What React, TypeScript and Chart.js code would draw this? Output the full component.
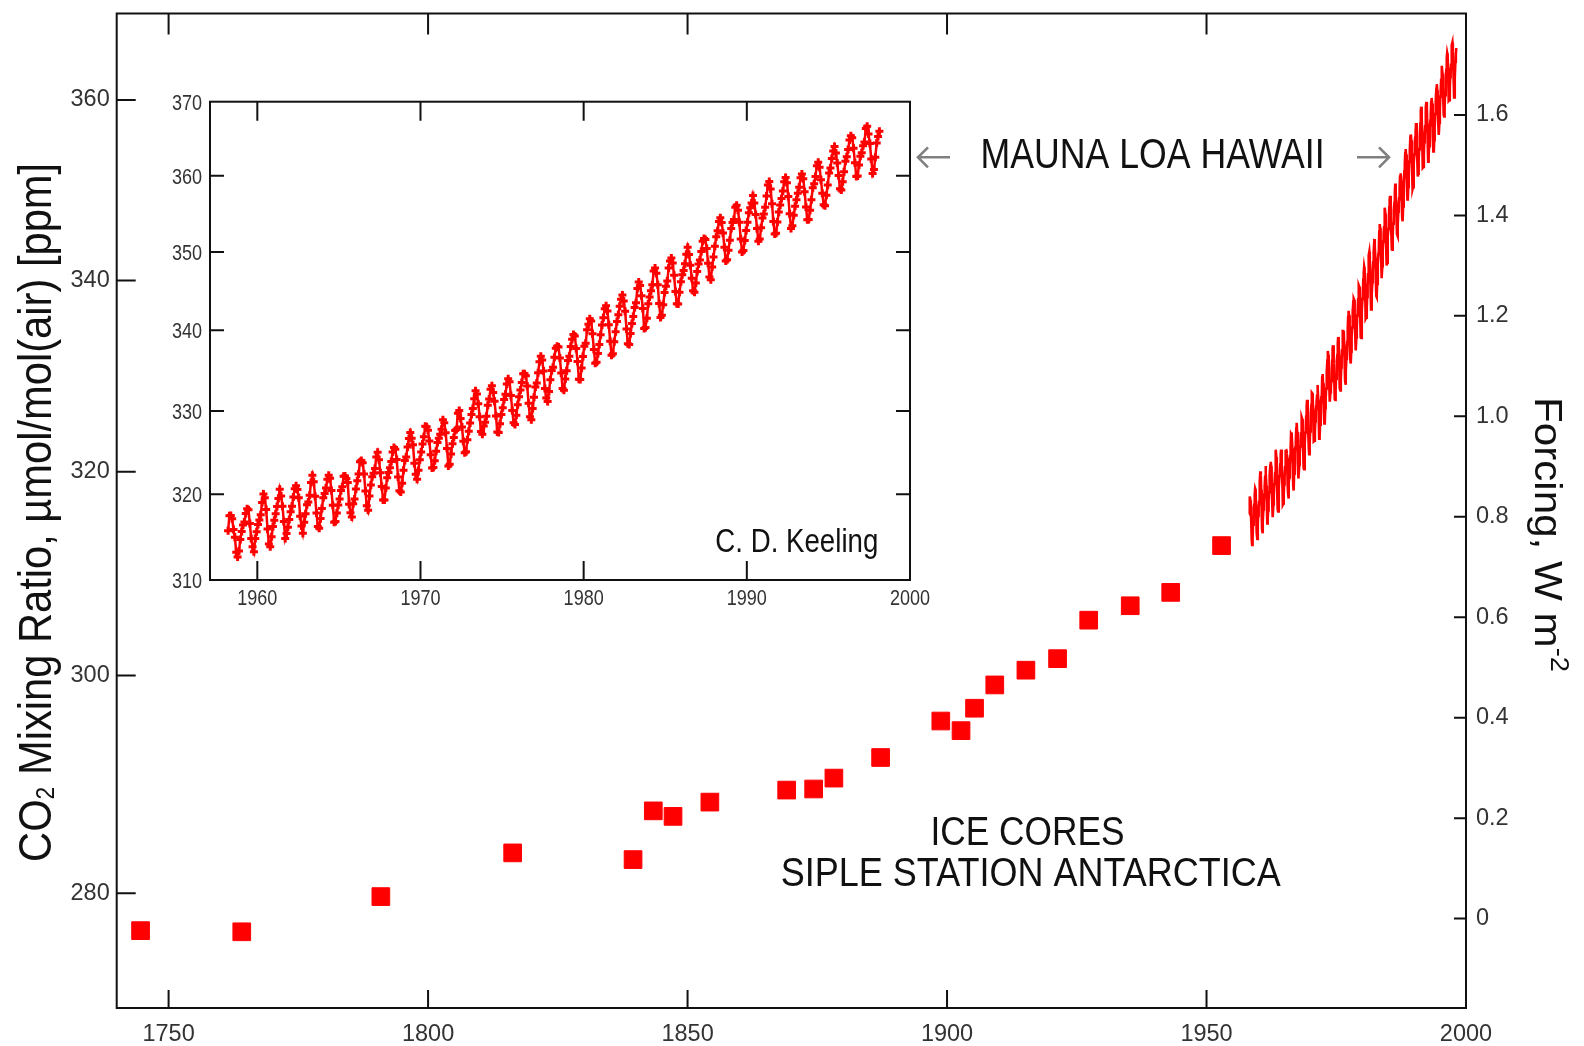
import React, { useEffect, useRef } from 'react';
import { Chart, registerables } from 'chart.js';

Chart.register(...registerables);

const RED = '#ff0000';
const FAMILY = '"Liberation Sans", Arial, Helvetica, sans-serif';

// Ice cores, Siple Station Antarctica
const ICE_YEARS = [1744.6, 1764.1, 1790.9, 1816.3, 1839.5, 1843.4, 1847.2, 1854.3, 1869.1, 1874.3, 1878.2,
  1887.2, 1898.8, 1902.7, 1905.3, 1909.2, 1915.2, 1921.3, 1927.3, 1935.3, 1943.1, 1952.9];
const ICE_CO2 = [276.7, 276.6, 279.7, 283.6, 283.0, 287.4, 286.9, 288.2, 289.3, 289.4, 290.4,
  292.3, 295.7, 294.8, 296.9, 299.1, 300.5, 301.6, 305.3, 306.7, 308.0, 312.6];

// Mauna Loa monthly CO2 (ppm), one row per year from 1958, Jan..Dec
const ML_FIRST_YEAR = 1958;
const ML_MONTHLY: (number | null)[][] = [
  [null, null, 315.71, 317.45, 317.50, 317.10, 315.86, 314.93, 313.20, 312.66, 313.33, 314.67],
  [315.62, 316.38, 316.71, 317.72, 318.29, 318.15, 316.54, 314.80, 313.84, 313.26, 314.80, 315.58],
  [316.43, 316.97, 317.58, 319.02, 320.03, 319.59, 318.18, 315.91, 314.16, 313.83, 315.00, 316.19],
  [316.93, 317.70, 318.54, 319.48, 320.58, 319.77, 318.57, 316.79, 314.80, 315.38, 316.10, 317.01],
  [317.94, 318.56, 319.68, 320.63, 321.01, 320.55, 319.58, 317.40, 316.26, 315.42, 316.69, 317.69],
  [318.74, 319.08, 319.86, 321.39, 322.25, 321.47, 319.74, 317.77, 316.21, 315.99, 317.12, 318.31],
  [319.57, 320.07, 320.73, 321.77, 322.25, 321.89, 320.44, 318.70, 316.70, 316.79, 317.79, 318.71],
  [319.44, 320.44, 320.89, 322.13, 322.16, 321.87, 321.39, 318.81, 317.81, 317.30, 318.87, 319.42],
  [320.62, 321.59, 322.39, 323.87, 324.01, 323.75, 322.39, 320.37, 318.64, 318.10, 319.79, 321.08],
  [322.07, 322.50, 323.04, 324.42, 325.00, 324.09, 322.55, 320.92, 319.31, 319.31, 320.72, 321.96],
  [322.57, 323.15, 323.89, 325.02, 325.57, 325.36, 324.14, 322.03, 320.41, 320.25, 321.31, 322.84],
  [324.00, 324.42, 325.64, 326.66, 327.38, 326.70, 325.89, 323.67, 322.38, 321.78, 322.85, 324.11],
  [325.03, 325.99, 326.87, 328.13, 328.07, 327.66, 326.35, 324.69, 323.10, 323.16, 323.98, 325.13],
  [326.17, 326.68, 327.18, 327.78, 328.92, 328.57, 327.34, 325.46, 323.36, 323.57, 324.80, 326.01],
  [326.77, 327.63, 327.75, 329.72, 330.07, 329.09, 328.05, 326.32, 324.93, 325.06, 326.50, 327.55],
  [328.54, 329.56, 330.30, 331.50, 332.48, 332.07, 330.87, 329.31, 327.51, 327.18, 328.16, 328.64],
  [329.35, 330.71, 331.48, 332.65, 333.09, 332.25, 331.18, 329.40, 327.43, 327.37, 328.46, 329.57],
  [330.40, 331.40, 332.04, 333.31, 333.96, 333.59, 331.91, 330.06, 328.56, 328.34, 329.49, 330.76],
  [331.75, 332.56, 333.50, 334.58, 334.57, 334.34, 333.05, 330.94, 329.30, 328.94, 330.31, 331.68],
  [332.93, 333.42, 334.70, 336.07, 336.74, 336.27, 334.93, 332.75, 331.58, 331.16, 332.40, 333.85],
  [334.97, 335.39, 336.64, 337.76, 338.01, 337.89, 336.54, 334.68, 332.76, 332.54, 333.92, 334.95],
  [336.23, 336.76, 337.96, 338.89, 339.47, 339.29, 337.73, 336.09, 333.91, 333.86, 335.29, 336.73],
  [338.01, 338.36, 340.08, 340.77, 341.46, 341.17, 339.56, 337.60, 335.88, 336.01, 337.10, 338.21],
  [339.43, 340.67, 341.58, 342.71, 343.11, 342.45, 340.69, 338.63, 336.89, 337.05, 338.56, 339.81],
  [341.10, 341.96, 343.05, 343.91, 344.48, 343.70, 342.41, 340.17, 338.32, 338.21, 339.61, 340.84],
  [341.75, 342.89, 343.47, 345.31, 346.12, 345.69, 344.36, 342.76, 340.23, 340.36, 341.53, 343.36],
  [344.20, 345.01, 345.78, 347.53, 347.92, 347.26, 345.79, 343.39, 341.61, 341.90, 343.24, 344.79],
  [345.59, 346.25, 347.93, 348.82, 349.23, 348.56, 346.98, 344.90, 343.35, 343.32, 344.82, 346.17],
  [347.05, 347.61, 348.48, 349.69, 350.60, 349.68, 348.27, 346.62, 345.01, 344.81, 345.99, 347.48],
  [348.44, 348.95, 350.07, 351.37, 351.75, 351.62, 350.45, 348.55, 346.77, 346.43, 348.06, 349.35],
  [350.73, 351.97, 352.75, 353.96, 354.44, 353.84, 352.45, 350.59, 348.84, 348.98, 350.22, 351.52],
  [353.04, 353.83, 354.23, 355.84, 356.09, 355.43, 353.87, 351.69, 349.99, 350.18, 351.47, 352.78],
  [353.86, 355.10, 355.75, 356.38, 357.38, 356.39, 354.89, 353.06, 351.38, 351.69, 353.14, 354.41],
  [354.93, 355.82, 357.33, 358.77, 359.23, 358.23, 356.30, 353.97, 352.34, 352.43, 353.89, 355.21],
  [356.13, 357.00, 357.97, 359.20, 359.78, 359.07, 357.25, 354.98, 353.04, 353.40, 354.77, 355.97],
  [356.82, 357.67, 358.46, 359.75, 360.23, 359.61, 357.89, 355.86, 354.18, 354.21, 355.45, 356.82],
  [358.41, 358.93, 359.90, 361.32, 361.81, 361.12, 359.46, 357.68, 356.15, 356.04, 357.41, 358.78],
  [360.38, 361.02, 362.30, 363.30, 363.92, 363.04, 361.69, 360.05, 358.28, 358.12, 359.21, 360.55],
  [361.93, 362.54, 363.50, 364.80, 365.38, 365.11, 363.67, 361.74, 359.90, 359.98, 361.44, 362.60],
  [363.09, 364.03, 364.51, 366.35, 366.64, 365.59, 364.31, 362.25, 360.29, 360.82, 362.49, 364.38],
  [365.27, 365.98],
];

// Axes
const MAIN_YEAR_RANGE = [1740, 2000];
const MAIN_CO2_RANGE = [270, 370];
const FORCING_RANGE = [-0.178, 1.802];
const MAIN_YEAR_TICKS = [1750, 1800, 1850, 1900, 1950, 2000];
const MAIN_CO2_TICKS = [280, 300, 320, 340, 360];
const FORCING_TICKS = [0, 0.2, 0.4, 0.6, 0.8, 1.0, 1.2, 1.4, 1.6];
const INSET_YEAR_RANGE = [1957.1, 2000];
const INSET_CO2_RANGE = [310, 370];
const INSET_YEAR_TICKS = [1960, 1970, 1980, 1990, 2000];
const INSET_CO2_TICKS = [310, 320, 330, 340, 350, 360, 370];

// Text
const LEFT_TITLE_RUNS = [
  { text: 'CO', scale: 1, dy: 0 },
  { text: '2', scale: 0.55, dy: 0.06 },
  { text: ' Mixing Ratio, µmol/mol(air) [ppm]', scale: 1, dy: 0 },
];
const RIGHT_TITLE_RUNS = [
  { text: 'Forcing, W m', scale: 1, dy: 0 },
  { text: '-2', scale: 0.65, dy: -0.42 },
];
const LABEL_MAUNA = 'MAUNA LOA HAWAII';
const LABEL_ICE_1 = 'ICE CORES';
const LABEL_ICE_2 = 'SIPLE STATION ANTARCTICA';
const LABEL_KEELING = 'C. D. Keeling';

const mlPoints = () => {
  const pts: { x: number; y: number }[] = [];
  ML_MONTHLY.forEach((row, i) => {
    row.forEach((v, m) => {
      if (v != null) pts.push({ x: ML_FIRST_YEAR + i + (m + 0.5) / 12, y: v });
    });
  });
  return pts;
};
const icePoints = () => ICE_YEARS.map((x, i) => ({ x, y: ICE_CO2[i] }));

type Run = { text: string; scale: number; dy: number };

function drawRuns(ctx: CanvasRenderingContext2D, runs: Run[], size: number, cx: number, cy: number,
  rot: number, targetLen: number, color: string) {
  ctx.save();
  ctx.translate(cx, cy);
  ctx.rotate(rot);
  let total = 0;
  const widths = runs.map((r) => {
    ctx.font = `${size * r.scale}px ${FAMILY}`;
    const w = ctx.measureText(r.text).width;
    total += w;
    return w;
  });
  const sx = targetLen > 0 ? targetLen / total : 1;
  ctx.scale(sx, 1);
  ctx.fillStyle = color;
  ctx.textBaseline = 'alphabetic';
  ctx.textAlign = 'left';
  let x = -total / 2;
  runs.forEach((r, i) => {
    ctx.font = `${size * r.scale}px ${FAMILY}`;
    ctx.fillText(r.text, x, r.dy * size);
    x += widths[i];
  });
  ctx.restore();
}

function txt(ctx: CanvasRenderingContext2D, text: string, x: number, y: number, size: number, sx: number,
  align: CanvasTextAlign, color: string) {
  ctx.save();
  ctx.translate(x, y);
  ctx.scale(sx, 1);
  ctx.font = `${size}px ${FAMILY}`;
  ctx.fillStyle = color;
  ctx.textAlign = align;
  ctx.textBaseline = 'alphabetic';
  ctx.fillText(text, 0, 0);
  ctx.restore();
}

function arrow(ctx: CanvasRenderingContext2D, x1: number, x2: number, y: number, dir: number) {
  const hx = dir < 0 ? x1 : x2;
  ctx.beginPath();
  ctx.moveTo(x1, y);
  ctx.lineTo(x2, y);
  ctx.moveTo(hx - dir * 10, y - 10);
  ctx.lineTo(hx, y);
  ctx.lineTo(hx - dir * 10, y + 10);
  ctx.stroke();
}

const zeroPad = (s: any) => {
  s.paddingTop = 0; s.paddingBottom = 0; s.paddingLeft = 0; s.paddingRight = 0;
};

const mainDecor = {
  id: 'mainDecor',
  afterDraw(chart: any) {
    const { ctx, chartArea: a, scales } = chart;
    ctx.save();
    ctx.strokeStyle = '#111';
    ctx.lineWidth = 2;
    ctx.strokeRect(a.left, a.top, a.right - a.left, a.bottom - a.top);
    ctx.beginPath();
    MAIN_YEAR_TICKS.forEach((v) => {
      if (v >= MAIN_YEAR_RANGE[1]) return;
      const px = scales.x.getPixelForValue(v);
      ctx.moveTo(px, a.bottom); ctx.lineTo(px, a.bottom - 18);
      ctx.moveTo(px, a.top); ctx.lineTo(px, a.top + 21);
    });
    MAIN_CO2_TICKS.forEach((v) => {
      const py = scales.y.getPixelForValue(v);
      ctx.moveTo(a.left, py); ctx.lineTo(a.left + 19, py);
    });
    FORCING_TICKS.forEach((v) => {
      const py = scales.yF.getPixelForValue(v);
      ctx.moveTo(a.right, py); ctx.lineTo(a.right - 12, py);
    });
    ctx.stroke();

    drawRuns(ctx, LEFT_TITLE_RUNS, 47, 51, 512.4, -Math.PI / 2, 699, '#111');
    drawRuns(ctx, RIGHT_TITLE_RUNS, 39, 1535, 534.5, Math.PI / 2, 275, '#111');
    drawRuns(ctx, [{ text: LABEL_MAUNA, scale: 1, dy: 0 }], 42, 1152.6, 168.3, 0, 344, '#111');
    drawRuns(ctx, [{ text: LABEL_ICE_1, scale: 1, dy: 0 }], 40, 1027.5, 845, 0, 194, '#111');
    drawRuns(ctx, [{ text: LABEL_ICE_2, scale: 1, dy: 0 }], 40, 1030.8, 886, 0, 500, '#111');

    ctx.strokeStyle = '#808080';
    ctx.lineWidth = 2.6;
    arrow(ctx, 918, 950, 157.3, -1);
    arrow(ctx, 1357, 1389, 157.3, 1);
    ctx.restore();
  },
};

const insetDecor = {
  id: 'insetDecor',
  afterDraw(chart: any) {
    const { ctx, chartArea: a, scales } = chart;
    ctx.save();
    ctx.strokeStyle = '#111';
    ctx.lineWidth = 2;
    ctx.strokeRect(a.left, a.top, a.right - a.left, a.bottom - a.top);
    ctx.beginPath();
    INSET_YEAR_TICKS.forEach((v) => {
      if (v >= INSET_YEAR_RANGE[1]) return;
      const px = scales.x.getPixelForValue(v);
      ctx.moveTo(px, a.bottom); ctx.lineTo(px, a.bottom - 19);
      ctx.moveTo(px, a.top); ctx.lineTo(px, a.top + 19);
    });
    INSET_CO2_TICKS.forEach((v) => {
      if (v <= INSET_CO2_RANGE[0] || v >= INSET_CO2_RANGE[1]) return;
      const py = scales.y.getPixelForValue(v);
      ctx.moveTo(a.left, py); ctx.lineTo(a.left + 14, py);
      ctx.moveTo(a.right, py); ctx.lineTo(a.right - 14, py);
    });
    ctx.stroke();

    INSET_YEAR_TICKS.forEach((v) => {
      const px = scales.x.getPixelForValue(v);
      txt(ctx, String(v), px, a.bottom + 25, 22, 0.82, 'center', '#333');
    });
    INSET_CO2_TICKS.forEach((v) => {
      const py = scales.y.getPixelForValue(v);
      txt(ctx, String(v), a.left - 8, py + 7.9, 22, 0.82, 'right', '#333');
    });
    drawRuns(ctx, [{ text: LABEL_KEELING, scale: 1, dy: 0 }], 33, 646.8, 471.7, 0, 163, '#111');
    ctx.restore();
  },
};

const tickFont = { family: FAMILY, size: 23.5 };

export default function App() {
  const mainRef = useRef<HTMLCanvasElement>(null);
  const insetRef = useRef<HTMLCanvasElement>(null);

  useEffect(() => {
    const main = new Chart(mainRef.current as HTMLCanvasElement, {
      type: 'scatter',
      data: {
        datasets: [
          {
            label: 'Mauna Loa', data: mlPoints(), showLine: true, borderColor: RED, borderWidth: 2.6,
            pointRadius: 0, yAxisID: 'y',
          } as any,
          {
            label: 'Ice cores', data: icePoints(), pointStyle: 'rect', pointRadius: 12.5,
            backgroundColor: RED, borderColor: RED, borderWidth: 1, yAxisID: 'y',
          } as any,
        ],
      },
      options: {
        responsive: false,
        animation: false,
        devicePixelRatio: 1,
        layout: { padding: { top: 12.7, bottom: 0, left: 0, right: 0 } },
        plugins: { legend: { display: false }, tooltip: { enabled: false } },
        scales: {
          x: {
            type: 'linear', position: 'bottom', min: MAIN_YEAR_RANGE[0], max: MAIN_YEAR_RANGE[1],
            afterBuildTicks: (ax: any) => { ax.ticks = MAIN_YEAR_TICKS.map((value) => ({ value })); },
            afterFit: (s: any) => { s.height = 38; zeroPad(s); },
            grid: { display: false, drawTicks: false }, border: { display: false },
            ticks: { font: tickFont, color: '#333', padding: 12, autoSkip: false, maxRotation: 0,
              callback: (v: any) => String(v) },
          },
          y: {
            type: 'logarithmic', position: 'left', min: MAIN_CO2_RANGE[0], max: MAIN_CO2_RANGE[1],
            afterBuildTicks: (ax: any) => { ax.ticks = MAIN_CO2_TICKS.map((value) => ({ value })); },
            afterFit: (s: any) => { s.width = 116.7; zeroPad(s); },
            grid: { display: false, drawTicks: false }, border: { display: false },
            ticks: { font: tickFont, color: '#333', padding: 7, autoSkip: false,
              callback: (v: any) => String(v) },
          },
          yF: {
            type: 'linear', position: 'right', min: FORCING_RANGE[0], max: FORCING_RANGE[1],
            afterBuildTicks: (ax: any) => { ax.ticks = FORCING_TICKS.map((value) => ({ value })); },
            afterFit: (s: any) => { s.width = 118; zeroPad(s); },
            grid: { display: false, drawTicks: false }, border: { display: false },
            ticks: { font: tickFont, color: '#333', padding: 10, autoSkip: false,
              callback: (v: any) => (v === 0 ? '0' : Number(v).toFixed(1)) },
          },
        },
      } as any,
      plugins: [mainDecor],
    });

    const inset = new Chart(insetRef.current as HTMLCanvasElement, {
      type: 'scatter',
      data: {
        datasets: [
          {
            label: 'Mauna Loa (C. D. Keeling)', data: mlPoints(), showLine: true, borderColor: RED,
            borderWidth: 2.5, pointStyle: 'cross', pointRadius: 4, pointBorderWidth: 3,
            pointBorderColor: RED, pointBackgroundColor: RED,
          } as any,
        ],
      },
      options: {
        responsive: false,
        animation: false,
        devicePixelRatio: 1,
        layout: { padding: { top: 21.7, bottom: 0, left: 0, right: 40 } },
        plugins: { legend: { display: false }, tooltip: { enabled: false } },
        scales: {
          x: {
            type: 'linear', position: 'bottom', min: INSET_YEAR_RANGE[0], max: INSET_YEAR_RANGE[1],
            afterBuildTicks: (ax: any) => { ax.ticks = INSET_YEAR_TICKS.map((value) => ({ value })); },
            afterFit: (s: any) => { s.height = 40; zeroPad(s); },
            grid: { display: false, drawTicks: false }, border: { display: false }, ticks: { display: false },
          },
          y: {
            type: 'logarithmic', position: 'left', min: INSET_CO2_RANGE[0], max: INSET_CO2_RANGE[1],
            afterBuildTicks: (ax: any) => { ax.ticks = INSET_CO2_TICKS.map((value) => ({ value })); },
            afterFit: (s: any) => { s.width = 60; zeroPad(s); },
            grid: { display: false, drawTicks: false }, border: { display: false }, ticks: { display: false },
          },
        },
      } as any,
      plugins: [insetDecor],
    });

    return () => {
      main.destroy();
      inset.destroy();
    };
  }, []);

  return (
    <div style={{ position: 'absolute', left: 0, top: 0, width: 1584, height: 1046, background: '#fff', overflow: 'hidden' }}>
      <canvas ref={mainRef} width={1584} height={1046} style={{ position: 'absolute', left: 0, top: 0 }} />
      <canvas ref={insetRef} width={800} height={540} style={{ position: 'absolute', left: 150, top: 80 }} />
    </div>
  );
}
